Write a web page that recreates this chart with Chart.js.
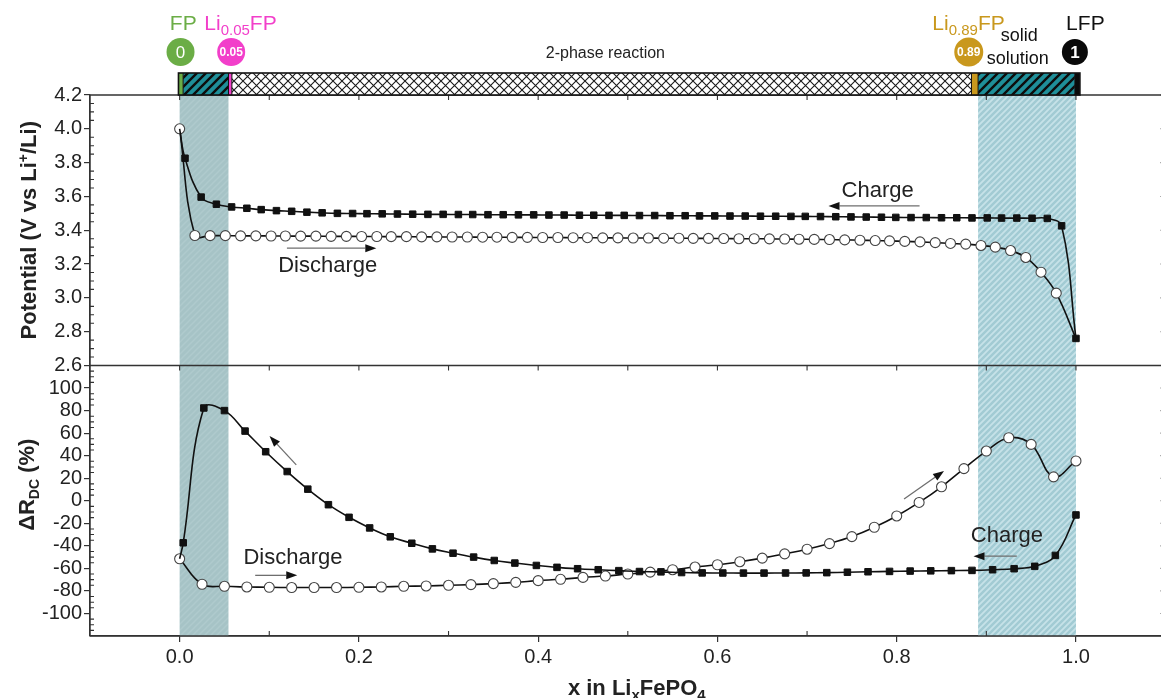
<!DOCTYPE html>
<html><head><meta charset="utf-8">
<script src="https://cdn.jsdelivr.net/npm/chart.js@4.4.1/dist/chart.umd.min.js"></script>
<style>html,body{margin:0;padding:0;background:#fff;overflow:hidden;}#wrap{width:1161px;height:698px;overflow:hidden;position:relative;}canvas{display:block;}</style>
</head><body><div id="wrap"><canvas id="c" width="1180" height="698"></canvas></div>
<script>
// ---------- DATA ----------
const xTicks = [0.0, 0.2, 0.4, 0.6, 0.8, 1.0];
const potTicks = [2.6, 2.8, 3.0, 3.2, 3.4, 3.6, 3.8, 4.0, 4.2];
const drTicks = [-100, -80, -60, -40, -20, 0, 20, 40, 60, 80, 100];

// Potential, charge (filled squares)
const potChargeX = [0.000, 0.006, 0.024, 0.041, 0.058, 0.075, 0.091, 0.108, 0.125, 0.142, 0.159, 0.176, 0.193, 0.209, 0.226, 0.243, 0.260, 0.277, 0.294, 0.311, 0.327, 0.344, 0.361, 0.378, 0.395, 0.412, 0.429, 0.446, 0.462, 0.479, 0.496, 0.513, 0.530, 0.547, 0.564, 0.580, 0.597, 0.614, 0.631, 0.648, 0.665, 0.682, 0.698, 0.715, 0.732, 0.749, 0.766, 0.783, 0.799, 0.816, 0.833, 0.850, 0.867, 0.884, 0.901, 0.917, 0.934, 0.951, 0.968, 0.984, 1.000];
const potChargeV = [4.000, 3.826, 3.596, 3.554, 3.538, 3.530, 3.522, 3.516, 3.512, 3.507, 3.503, 3.500, 3.499, 3.498, 3.497, 3.496, 3.495, 3.494, 3.494, 3.493, 3.493, 3.492, 3.492, 3.491, 3.491, 3.490, 3.490, 3.489, 3.489, 3.488, 3.488, 3.487, 3.487, 3.486, 3.486, 3.485, 3.485, 3.484, 3.484, 3.483, 3.483, 3.482, 3.482, 3.481, 3.480, 3.479, 3.478, 3.477, 3.476, 3.475, 3.475, 3.474, 3.474, 3.473, 3.473, 3.472, 3.472, 3.471, 3.470, 3.426, 2.760];

// Potential, discharge (open circles)
const potDischargeX = [0.000, 0.017, 0.034, 0.051, 0.068, 0.085, 0.102, 0.118, 0.135, 0.152, 0.169, 0.186, 0.203, 0.220, 0.236, 0.253, 0.270, 0.287, 0.304, 0.321, 0.338, 0.354, 0.371, 0.388, 0.405, 0.422, 0.439, 0.455, 0.472, 0.489, 0.506, 0.523, 0.540, 0.557, 0.573, 0.590, 0.607, 0.624, 0.641, 0.658, 0.675, 0.691, 0.708, 0.725, 0.742, 0.759, 0.776, 0.792, 0.809, 0.826, 0.843, 0.860, 0.877, 0.894, 0.910, 0.927, 0.944, 0.961, 0.978, 1.000];
const potDischargeV = [4.000, 3.369, 3.368, 3.368, 3.367, 3.367, 3.366, 3.366, 3.365, 3.365, 3.364, 3.364, 3.363, 3.363, 3.362, 3.362, 3.361, 3.361, 3.360, 3.360, 3.359, 3.359, 3.358, 3.358, 3.357, 3.357, 3.356, 3.356, 3.355, 3.355, 3.354, 3.354, 3.353, 3.353, 3.352, 3.352, 3.351, 3.350, 3.350, 3.349, 3.348, 3.347, 3.346, 3.345, 3.343, 3.341, 3.339, 3.337, 3.334, 3.331, 3.327, 3.322, 3.318, 3.310, 3.300, 3.280, 3.239, 3.152, 3.028, 2.760];

// ΔR_DC, charge (filled squares)
const drChargeX = [0.000, 0.004, 0.027, 0.050, 0.073, 0.096, 0.120, 0.143, 0.166, 0.189, 0.212, 0.235, 0.259, 0.282, 0.305, 0.328, 0.351, 0.374, 0.398, 0.421, 0.444, 0.467, 0.490, 0.513, 0.537, 0.560, 0.583, 0.606, 0.629, 0.652, 0.676, 0.699, 0.722, 0.745, 0.768, 0.792, 0.815, 0.838, 0.861, 0.884, 0.907, 0.931, 0.954, 0.977, 1.000];
const drChargeV = [-51.5, -37.3, 82.3, 80.0, 61.8, 43.5, 25.9, 10.3, -3.5, -14.7, -24.1, -32.0, -37.7, -42.7, -46.5, -50.0, -53.0, -55.3, -57.4, -59.1, -60.3, -61.2, -62.0, -62.8, -63.1, -63.7, -64.0, -64.1, -64.2, -64.2, -64.1, -64.0, -63.8, -63.4, -63.0, -62.7, -62.4, -62.2, -62.0, -61.8, -61.2, -60.3, -58.2, -48.5, -12.6];

// ΔR_DC, discharge (open circles)
const drDischargeX = [0.000, 0.025, 0.050, 0.075, 0.100, 0.125, 0.150, 0.175, 0.200, 0.225, 0.250, 0.275, 0.300, 0.325, 0.350, 0.375, 0.400, 0.425, 0.450, 0.475, 0.500, 0.525, 0.550, 0.575, 0.600, 0.625, 0.650, 0.675, 0.700, 0.725, 0.750, 0.775, 0.800, 0.825, 0.850, 0.875, 0.900, 0.925, 0.950, 0.975, 1.000];
const drDischargeV = [-51.5, -74.1, -75.9, -76.5, -76.8, -77.0, -77.0, -77.0, -76.8, -76.5, -75.9, -75.6, -75.0, -74.4, -73.5, -72.4, -70.9, -69.7, -68.0, -66.8, -65.0, -63.3, -61.2, -58.8, -56.8, -54.1, -50.9, -47.1, -43.0, -38.0, -31.8, -23.5, -13.5, -1.5, 12.4, 28.5, 44.1, 55.9, 50.0, 21.2, 35.3];

// Phase bar boundaries (x in LixFePO4) and shaded regions
const phaseEdges = [-0.0013, 0.0039, 0.0545, 0.0583, 0.8834, 0.8908, 0.9988, 1.0044];
const phaseKinds = ['green', 'teal', 'magenta', 'cross', 'gold', 'teal', 'black'];
const bandLeft = [0.0, 0.0545];
const bandRight = [0.8908, 1.0];

// ---------- STYLE ----------
const FONT = '"Liberation Sans", Arial, Helvetica, sans-serif';
const C_GREEN = '#6bad46', C_MAG = '#f23fca', C_GOLD = '#c9981d', C_TEXT = '#222';

const zip = (xs, ys) => xs.map((x, i) => ({x: x, y: ys[i]}));

function mk(size) { const c = document.createElement('canvas'); c.width = c.height = size; return c; }
function stripePat(ctx, bg, fg, size, lw) {
  const c = mk(size), g = c.getContext('2d');
  g.fillStyle = bg; g.fillRect(0, 0, size, size);
  g.strokeStyle = fg; g.lineWidth = lw; g.beginPath();
  g.moveTo(0, size); g.lineTo(size, 0);
  g.moveTo(-size, size); g.lineTo(size, -size);
  g.moveTo(0, 2 * size); g.lineTo(2 * size, 0);
  g.stroke();
  return ctx.createPattern(c, 'repeat');
}
function crossPat(ctx, size) {
  const c = mk(size), g = c.getContext('2d');
  g.fillStyle = '#fff'; g.fillRect(0, 0, size, size);
  g.strokeStyle = '#1a1a1a'; g.lineWidth = 1.1; g.beginPath();
  g.moveTo(0, 0); g.lineTo(size, size);
  g.moveTo(size, 0); g.lineTo(0, size);
  g.stroke();
  return ctx.createPattern(c, 'repeat');
}
let P = null;
function pats(ctx) {
  if (!P) P = {
    bandL: stripePat(ctx, '#a6c3c6', '#afcacd', 6, 1.5),
    bandR: stripePat(ctx, '#a2cbd3', '#c6e2e8', 6, 1.8),
    teal: stripePat(ctx, '#1f8f99', '#0d0d0d', 9, 2.4),
    cross: crossPat(ctx, 9)
  };
  return P;
}

function drawRich(ctx, segs, x, y, align) {
  let w = 0;
  segs.forEach(s => { ctx.font = s.font; s.w = ctx.measureText(s.t).width; w += s.w; });
  let cx = align === 'center' ? x - w / 2 : (align === 'right' ? x - w : x);
  ctx.textAlign = 'left'; ctx.textBaseline = 'alphabetic';
  segs.forEach(s => { ctx.font = s.font; ctx.fillStyle = s.color || C_TEXT; ctx.fillText(s.t, cx, y + (s.dy || 0)); cx += s.w; });
}
function drawArrow(ctx, x1, y1, x2, y2) {
  const a = Math.atan2(y2 - y1, x2 - x1), hl = 11, hw = 4;
  const bx = x2 - hl * Math.cos(a), by = y2 - hl * Math.sin(a);
  ctx.strokeStyle = '#6e6e6e'; ctx.lineWidth = 1.3;
  ctx.beginPath(); ctx.moveTo(x1, y1); ctx.lineTo(bx, by); ctx.stroke();
  ctx.fillStyle = '#111'; ctx.beginPath();
  ctx.moveTo(x2, y2);
  ctx.lineTo(bx - hw * Math.sin(a), by + hw * Math.cos(a));
  ctx.lineTo(bx + hw * Math.sin(a), by - hw * Math.cos(a));
  ctx.closePath(); ctx.fill();
}

// annotations in data coordinates
const notes = [
  {axis: 'y', text: 'Charge', x: 0.7385, y: 3.597},
  {axis: 'y', arrow: [0.8255, 3.544, 0.7239, 3.544]},
  {axis: 'y', text: 'Discharge', x: 0.110, y: 3.156},
  {axis: 'y', arrow: [0.1197, 3.294, 0.2194, 3.294]},
  {axis: 'y2', text: 'Discharge', x: 0.0712, y: -55.9},
  {axis: 'y2', arrow: [0.0843, -66.2, 0.1312, -66.2]},
  {axis: 'y2', arrow: [0.1301, 31.8, 0.1003, 57.4]},
  {axis: 'y2', arrow: [0.8082, 1.5, 0.8528, 26.5]},
  {axis: 'y2', text: 'Charge', x: 0.8827, y: -36.8},
  {axis: 'y2', arrow: [0.9340, -49.2, 0.8857, -49.2]}
];

const plugin = {
  id: 'deco',
  beforeDatasetsDraw(chart) {
    const {ctx, chartArea: a, scales: {x}} = chart; const p = pats(ctx);
    ctx.save();
    const l0 = x.getPixelForValue(bandLeft[0]), l1 = x.getPixelForValue(bandLeft[1]);
    ctx.fillStyle = p.bandL; ctx.fillRect(l0, a.top, l1 - l0, a.bottom - a.top);
    const r0 = x.getPixelForValue(bandRight[0]), r1 = x.getPixelForValue(bandRight[1]);
    ctx.fillStyle = p.bandR; ctx.fillRect(r0, a.top, r1 - r0, a.bottom - a.top);
    ctx.restore();
  },
  afterDatasetsDraw(chart) {
    const {ctx, scales} = chart; const x = scales.x;
    ctx.save();
    notes.forEach(n => {
      const ys = scales[n.axis];
      if (n.text) {
        ctx.font = '22px ' + FONT; ctx.fillStyle = C_TEXT; ctx.textAlign = 'left'; ctx.textBaseline = 'alphabetic';
        ctx.fillText(n.text, x.getPixelForValue(n.x), ys.getPixelForValue(n.y));
      } else {
        const q = n.arrow;
        drawArrow(ctx, x.getPixelForValue(q[0]), ys.getPixelForValue(q[1]), x.getPixelForValue(q[2]), ys.getPixelForValue(q[3]));
      }
    });
    ctx.restore();
  },
  afterDraw(chart) {
    const {ctx, chartArea: a, scales: {x, y, y2}} = chart; const p = pats(ctx);
    const mid = y.bottom;
    ctx.save();
    // frame
    ctx.strokeStyle = '#333'; ctx.lineWidth = 1.3;
    ctx.beginPath();
    ctx.moveTo(a.left, a.top); ctx.lineTo(a.right, a.top);
    ctx.moveTo(a.left, mid); ctx.lineTo(a.right, mid);
    ctx.moveTo(a.left, a.bottom); ctx.lineTo(a.right, a.bottom);
    ctx.moveTo(a.left, a.top); ctx.lineTo(a.left, a.bottom);
    ctx.moveTo(a.right, a.top); ctx.lineTo(a.right, a.bottom);
    ctx.stroke();
    // ticks
    ctx.lineWidth = 1.1; ctx.beginPath();
    for (let i = 0; i <= 10; i++) {
      const px = x.getPixelForValue(i / 10);
      ctx.moveTo(px, a.top); ctx.lineTo(px, a.top + 5);
      ctx.moveTo(px, mid); ctx.lineTo(px, mid + 5);
      if (i % 2 === 1) { ctx.moveTo(px, a.bottom); ctx.lineTo(px, a.bottom - 5); }
    }
    for (let i = 0; i <= 32; i++) {
      const v = 2.6 + i * 0.05;
      if (i % 4 !== 0) { const py = y.getPixelForValue(v); ctx.moveTo(a.left - 1, py); ctx.lineTo(a.left + 4, py); }
    }
    for (let i = 0; i <= 48; i++) {
      const v = -120 + i * 5;
      if (i % 4 !== 0) { const py = y2.getPixelForValue(v); ctx.moveTo(a.left - 1, py); ctx.lineTo(a.left + 4, py); }
    }
    potTicks.forEach(v => { const py = y.getPixelForValue(v); ctx.moveTo(a.right - 5, py); ctx.lineTo(a.right, py); });
    drTicks.forEach(v => { const py = y2.getPixelForValue(v); ctx.moveTo(a.right - 5, py); ctx.lineTo(a.right, py); });
    ctx.stroke();

    // phase bar
    const bt = a.top - 22, bb = a.top;
    for (let i = 0; i < phaseKinds.length; i++) {
      const x0 = x.getPixelForValue(phaseEdges[i]), x1 = x.getPixelForValue(phaseEdges[i + 1]);
      const k = phaseKinds[i];
      ctx.fillStyle = k === 'green' ? C_GREEN : k === 'magenta' ? C_MAG : k === 'gold' ? C_GOLD : k === 'black' ? '#0a0a0a' : k === 'teal' ? p.teal : p.cross;
      ctx.fillRect(x0, bt, x1 - x0, bb - bt);
    }
    ctx.strokeStyle = '#111'; ctx.lineWidth = 1;
    ctx.beginPath();
    for (let i = 1; i < phaseEdges.length - 1; i++) {
      const px = x.getPixelForValue(phaseEdges[i]); ctx.moveTo(px, bt); ctx.lineTo(px, bb);
    }
    ctx.stroke();
    ctx.lineWidth = 1.6;
    const bx0 = x.getPixelForValue(phaseEdges[0]), bx1 = x.getPixelForValue(phaseEdges[phaseEdges.length - 1]);
    ctx.strokeRect(bx0, bt, bx1 - bx0, bb - bt);

    // circles with compositions
    const circ = (xv, r, col, txt, font) => {
      const cx = x.getPixelForValue(xv), cy = a.top - 43;
      ctx.fillStyle = col; ctx.beginPath(); ctx.arc(cx, cy, r, 0, Math.PI * 2); ctx.fill();
      ctx.fillStyle = '#fff'; ctx.font = font; ctx.textAlign = 'center'; ctx.textBaseline = 'middle';
      ctx.fillText(txt, cx, cy + 1);
    };
    circ(0.001, 14, C_GREEN, '0', '17px ' + FONT);
    circ(0.0575, 14, C_MAG, '0.05', 'bold 12px ' + FONT);
    circ(0.8804, 14.5, C_GOLD, '0.89', 'bold 12px ' + FONT);
    circ(0.9988, 13, '#0a0a0a', '1', 'bold 17px ' + FONT);

    // composition labels
    const F21 = '21px ' + FONT, F14 = '15px ' + FONT, F18 = '18px ' + FONT;
    const ly = a.top - 65;
    drawRich(ctx, [{t: 'FP', font: F21, color: C_GREEN}], x.getPixelForValue(0.004), ly, 'center');
    drawRich(ctx, [{t: 'Li', font: F21, color: C_MAG}, {t: '0.05', font: F14, color: C_MAG, dy: 5}, {t: 'FP', font: F21, color: C_MAG}], x.getPixelForValue(0.0275), ly, 'left');
    drawRich(ctx, [{t: 'Li', font: F21, color: C_GOLD}, {t: '0.89', font: F14, color: C_GOLD, dy: 5}, {t: 'FP', font: F21, color: C_GOLD}], x.getPixelForValue(0.8398), ly, 'left');
    drawRich(ctx, [{t: 'solid', font: F18, color: '#111'}], x.getPixelForValue(0.9160), ly + 11, 'left');
    drawRich(ctx, [{t: 'solution', font: F18, color: '#111'}], x.getPixelForValue(0.9005), a.top - 31, 'left');
    drawRich(ctx, [{t: 'LFP', font: F21, color: '#111'}], x.getPixelForValue(1.0105), ly, 'center');
    drawRich(ctx, [{t: '2-phase reaction', font: '16px ' + FONT, color: C_TEXT}], x.getPixelForValue(0.475), a.top - 37, 'center');

    // axis titles
    const B22 = 'bold 22px ' + FONT, B14 = 'bold 14px ' + FONT, B15 = 'bold 15px ' + FONT;
    ctx.save(); ctx.translate(36, (y.top + y.bottom) / 2); ctx.rotate(-Math.PI / 2);
    drawRich(ctx, [{t: 'Potential (V vs Li', font: B22}, {t: '+', font: B14, dy: -8}, {t: '/Li)', font: B22}], 0, 0, 'center');
    ctx.restore();
    ctx.save(); ctx.translate(34, (y2.top + y2.bottom) / 2 - 16); ctx.rotate(-Math.PI / 2);
    drawRich(ctx, [{t: 'ΔR', font: B22}, {t: 'DC', font: B14, dy: 5}, {t: ' (%)', font: B22}], 0, 0, 'center');
    ctx.restore();
    drawRich(ctx, [{t: 'x in Li', font: B22}, {t: 'x', font: B15, dy: 5}, {t: 'FePO', font: B22}, {t: '4', font: B15, dy: 5}], x.getPixelForValue(0.51), 695, 'center');
    ctx.restore();
  }
};

const tickFont = {family: FONT, size: 20};
const hidden = (idxs) => (c) => idxs.includes(c.dataIndex) ? 0 : undefined;

new Chart(document.getElementById('c'), {
  type: 'line',
  data: {
    datasets: [
      {data: zip(potChargeX, potChargeV), yAxisID: 'y', borderColor: '#111', borderWidth: 1.6, tension: 0.4,
       pointStyle: 'rect', pointRadius: c => c.dataIndex === 0 ? 0 : 4.6, pointBackgroundColor: '#111', pointBorderColor: '#111', pointBorderWidth: 1},
      {data: zip(potDischargeX, potDischargeV), yAxisID: 'y', borderColor: '#111', borderWidth: 1.6, tension: 0.4,
       pointStyle: 'circle', pointRadius: c => c.dataIndex === potDischargeX.length - 1 ? 0 : 5, pointBackgroundColor: '#fff', pointBorderColor: '#444', pointBorderWidth: 1.1},
      {data: zip(drChargeX, drChargeV), yAxisID: 'y2', borderColor: '#111', borderWidth: 1.6, tension: 0.4,
       pointStyle: 'rect', pointRadius: c => c.dataIndex === 0 ? 0 : 4.6, pointBackgroundColor: '#111', pointBorderColor: '#111', pointBorderWidth: 1},
      {data: zip(drDischargeX, drDischargeV), yAxisID: 'y2', borderColor: '#111', borderWidth: 1.6, tension: 0.4,
       pointStyle: 'circle', pointRadius: 5, pointBackgroundColor: '#fff', pointBorderColor: '#444', pointBorderWidth: 1.1}
    ]
  },
  options: {
    responsive: false, animation: false, devicePixelRatio: 1, events: [],
    layout: {padding: {top: 95, right: 14.4, bottom: 0, left: 0}},
    plugins: {legend: {display: false}, tooltip: {enabled: false}},
    scales: {
      x: {type: 'linear', position: 'bottom', min: -0.1, max: 1.1,
          afterBuildTicks: s => { s.ticks = xTicks.map(v => ({value: v})); },
          afterFit: s => { s.height = 62; },
          ticks: {font: tickFont, color: C_TEXT, padding: 3, autoSkip: false, maxRotation: 0, minRotation: 0, callback: v => Number(v).toFixed(1)},
          grid: {drawOnChartArea: false, drawTicks: true, tickLength: 6, color: '#333', lineWidth: 1.2},
          border: {display: true, color: '#333', width: 1.3}},
      y: {type: 'linear', position: 'left', stack: 'panels', stackWeight: 1, weight: 2, min: 2.6, max: 4.2,
          afterBuildTicks: s => { s.ticks = potTicks.map(v => ({value: v})); },
          afterFit: s => { s.width = 90; },
          ticks: {font: tickFont, color: C_TEXT, padding: 2, autoSkip: false, callback: v => Number(v).toFixed(1)},
          grid: {drawOnChartArea: false, drawTicks: true, tickLength: 6, color: '#333', lineWidth: 1.2},
          border: {display: true, color: '#333', width: 1.3}},
      y2: {type: 'linear', position: 'left', stack: 'panels', stackWeight: 1, weight: 1, min: -120, max: 120,
          afterBuildTicks: s => { s.ticks = drTicks.map(v => ({value: v})); },
          afterFit: s => { s.width = 90; },
          ticks: {font: tickFont, color: C_TEXT, padding: 2, autoSkip: false, callback: v => String(v)},
          grid: {drawOnChartArea: false, drawTicks: true, tickLength: 6, color: '#333', lineWidth: 1.2},
          border: {display: true, color: '#333', width: 1.3}}
    }
  },
  plugins: [plugin]
});
</script></body></html>
